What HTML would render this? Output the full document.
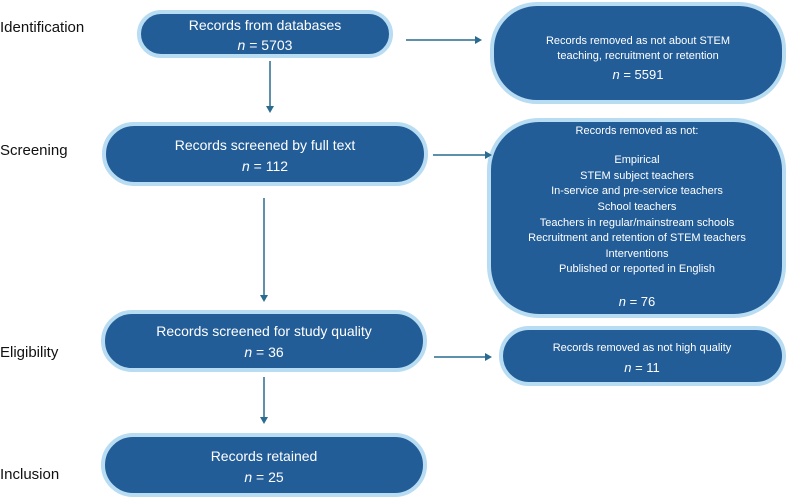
<!DOCTYPE html>
<html><head><meta charset="utf-8"><style>
html,body{margin:0;padding:0;background:#fff;}
svg{display:block;font-family:"Liberation Sans",sans-serif;}
.b{fill:#225d98;stroke:#b8dcf2;stroke-width:4;}
.t{fill:#fff;text-anchor:middle;}
.l{fill:#111;font-size:15px;}
.a{stroke:#2a6b8f;stroke-width:1.5;fill:none;}
.h{fill:#2a6b8f;}
</style></head><body>
<svg width="786" height="498" viewBox="0 0 786 498">
<text class="l" x="0" y="32">Identification</text>
<text class="l" x="0" y="155">Screening</text>
<text class="l" x="0" y="357">Eligibility</text>
<text class="l" x="0" y="479">Inclusion</text>

<rect class="b" x="139" y="12" width="252" height="44" rx="22"/>
<text class="t" x="265" y="30" font-size="14">Records from databases</text>
<text class="t" x="265" y="50" font-size="14"><tspan font-style="italic">n</tspan> = 5703</text>

<rect class="b" x="492" y="4" width="292" height="98" rx="45"/>
<text class="t" x="638" y="44" font-size="11">Records removed as not about STEM</text>
<text class="t" x="638" y="59" font-size="11">teaching, recruitment or retention</text>
<text class="t" x="638" y="79" font-size="13"><tspan font-style="italic">n</tspan> = 5591</text>

<rect class="b" x="104" y="124" width="322" height="60" rx="30"/>
<text class="t" x="265" y="150" font-size="14">Records screened by full text</text>
<text class="t" x="265" y="171" font-size="14"><tspan font-style="italic">n</tspan> = 112</text>

<rect class="b" x="489" y="120" width="295" height="196" rx="50"/>
<text class="t" x="637" y="134" font-size="11">Records removed as not:</text>
<text class="t" x="637" y="163" font-size="11">Empirical</text>
<text class="t" x="637" y="179" font-size="11">STEM subject teachers</text>
<text class="t" x="637" y="194" font-size="11">In-service and pre-service teachers</text>
<text class="t" x="637" y="210" font-size="11">School teachers</text>
<text class="t" x="637" y="226" font-size="11">Teachers in regular/mainstream schools</text>
<text class="t" x="637" y="241" font-size="11">Recruitment and retention of STEM teachers</text>
<text class="t" x="637" y="257" font-size="11">Interventions</text>
<text class="t" x="637" y="272" font-size="11">Published or reported in English</text>
<text class="t" x="637" y="306" font-size="13"><tspan font-style="italic">n</tspan> = 76</text>

<rect class="b" x="103" y="312" width="322" height="58" rx="29"/>
<text class="t" x="264" y="336" font-size="14">Records screened for study quality</text>
<text class="t" x="264" y="357" font-size="14"><tspan font-style="italic">n</tspan> = 36</text>

<rect class="b" x="501" y="328" width="283" height="56" rx="28"/>
<text class="t" x="642" y="351" font-size="11">Records removed as not high quality</text>
<text class="t" x="642" y="372" font-size="13"><tspan font-style="italic">n</tspan> = 11</text>

<rect class="b" x="103" y="435" width="322" height="60" rx="30"/>
<text class="t" x="264" y="461" font-size="14">Records retained</text>
<text class="t" x="264" y="482" font-size="14"><tspan font-style="italic">n</tspan> = 25</text>

<!-- arrows -->
<line class="a" x1="270" y1="61" x2="270" y2="107"/><polygon class="h" points="266,106 274,106 270,113"/>
<line class="a" x1="264" y1="198" x2="264" y2="296"/><polygon class="h" points="260,295 268,295 264,302"/>
<line class="a" x1="264" y1="377" x2="264" y2="418"/><polygon class="h" points="260,417 268,417 264,424"/>
<line class="a" x1="406" y1="40" x2="476" y2="40"/><polygon class="h" points="475,36 475,44 482,40"/>
<line class="a" x1="433" y1="155" x2="486" y2="155"/><polygon class="h" points="485,151 485,159 492,155"/>
<line class="a" x1="434" y1="357" x2="486" y2="357"/><polygon class="h" points="485,353 485,361 492,357"/>
</svg>
</body></html>
